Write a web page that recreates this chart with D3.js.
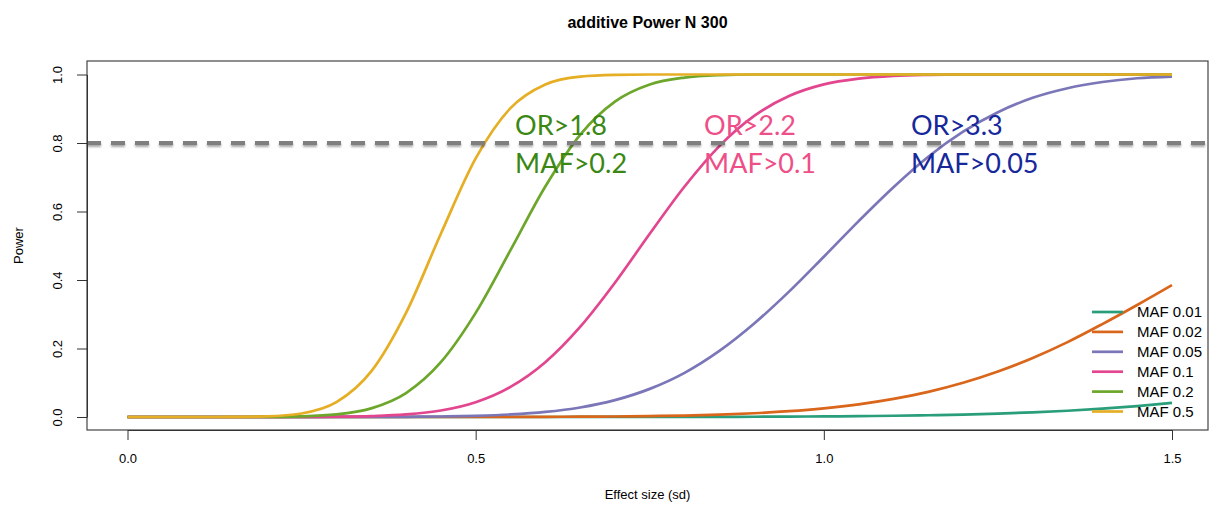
<!DOCTYPE html>
<html>
<head>
<meta charset="utf-8">
<script src="https://cdn.jsdelivr.net/npm/d3@7"></script>
<style>
  html, body { margin: 0; padding: 0; background: #ffffff; }
  svg { display: block; }
  .axis text { font-family: "Liberation Sans", Arial, sans-serif; font-size: 13px; fill: #000; }
  .axis path, .axis line { stroke: #333; stroke-width: 1; }
</style>
</head>
<body>
<svg id="chart" width="1214" height="513"></svg>
<script>
// Effect size grid (sd units)
const effectSize = [0, 0.05, 0.1, 0.15, 0.2, 0.25, 0.3, 0.35, 0.4, 0.45, 0.5, 0.55, 0.6, 0.65, 0.7,
  0.75, 0.8, 0.85, 0.9, 0.95, 1.0, 1.05, 1.1, 1.15, 1.2, 1.25, 1.3, 1.35, 1.4, 1.45, 1.5];

// Power for each minor allele frequency, additive model, N = 300
const powerMaf001 = [0, 0, 0, 0, 0, 0, 0, 0, 0, 0, 0, 0, 0, 0.0001, 0.0001,
  0.0002, 0.0003, 0.0005, 0.0008, 0.0012, 0.0017, 0.0025, 0.0036, 0.0051, 0.0071, 0.0099, 0.0135, 0.0182, 0.0243, 0.032, 0.041];
const powerMaf002 = [0, 0, 0, 0, 0, 0, 0, 0, 0, 0, 0.0001, 0.0003, 0.0005, 0.0009, 0.0015,
  0.0026, 0.0043, 0.0069, 0.011, 0.0169, 0.0253, 0.037, 0.0528, 0.0735, 0.0999, 0.1328, 0.1723, 0.2186, 0.2713, 0.327, 0.385];
const powerMaf005 = [0, 0, 0, 0, 0, 0, 0.0001, 0.0002, 0.0006, 0.0015, 0.0035, 0.0074, 0.0147, 0.0277, 0.0492,
  0.0821, 0.129, 0.193, 0.273, 0.366, 0.468, 0.572, 0.671, 0.760, 0.833, 0.890, 0.932, 0.960, 0.978, 0.989, 0.994];
const powerMaf01 = [0, 0, 0, 0, 0.0001, 0.0002, 0.0008, 0.0026, 0.0074, 0.0189, 0.0432, 0.0879, 0.160, 0.263, 0.392,
  0.535, 0.673, 0.791, 0.879, 0.937, 0.971, 0.988, 0.996, 0.999, 1, 1, 1, 1, 1, 1, 1];
const powerMaf02 = [0, 0, 0, 0, 0.0003, 0.0018, 0.0074, 0.0253, 0.070, 0.160, 0.304, 0.487, 0.673, 0.824, 0.921,
  0.971, 0.991, 0.998, 1, 1, 1, 1, 1, 1, 1, 1, 1, 1, 1, 1, 1];
const powerMaf05 = [0, 0, 0, 0.0002, 0.0018, 0.0103, 0.0432, 0.133, 0.304, 0.535, 0.755, 0.902, 0.971, 0.994, 0.999,
  1, 1, 1, 1, 1, 1, 1, 1, 1, 1, 1, 1, 1, 1, 1, 1];

const seriesLabels = ["MAF 0.01", "MAF 0.02", "MAF 0.05", "MAF 0.1", "MAF 0.2", "MAF 0.5"];
const seriesColors = ["#2A9E7A", "#D9661A", "#7A76B8", "#E2468F", "#6CA62A", "#E6AE24"];

// Axis ticks
const xTicks = [0, 0.5, 1.0, 1.5];
const yTicks = [0, 0.2, 0.4, 0.6, 0.8, 1.0];

// Target power threshold
const powerThreshold = 0.8;

// Annotated detection limits
const noteLines = [["OR>1.8", "MAF>0.2"], ["OR>2.2", "MAF>0.1"], ["OR>3.3", "MAF>0.05"]];
const noteColors = ["#3B8714", "#EE4F88", "#16289A"];

const series = [powerMaf001, powerMaf002, powerMaf005, powerMaf01, powerMaf02, powerMaf05]
  .map((vals, i) => ({
    label: seriesLabels[i],
    color: seriesColors[i],
    points: effectSize.map((e, j) => ({ x: e, y: vals[j] }))
  }));

// ---- layout ----
const box = { left: 87, right: 1208, top: 61, bottom: 430 };
const x = d3.scaleLinear().domain([0, 1.5]).range([127.5, 1172]);
const y = d3.scaleLinear().domain([0, 1]).range([417, 74.5]);

const svg = d3.select("#chart");

// Soft drop shadow for the threshold line (user-space region: the line has a zero-height bbox)
const defs = svg.append("defs");
const shadow = defs.append("filter").attr("id", "soft-shadow")
  .attr("filterUnits", "userSpaceOnUse")
  .attr("x", 0).attr("y", y(powerThreshold) - 15)
  .attr("width", 1214).attr("height", 30);
shadow.append("feDropShadow")
  .attr("dx", 0).attr("dy", 2).attr("stdDeviation", 1.3)
  .attr("flood-color", "#000").attr("flood-opacity", 0.35);

// Title
svg.append("text")
  .attr("x", (box.left + box.right) / 2).attr("y", 28)
  .attr("text-anchor", "middle")
  .style("font-family", "'Liberation Sans', Arial, sans-serif")
  .style("font-weight", "bold").style("font-size", "16px")
  .text("additive Power N 300");

// Power curves
const line = d3.line()
  .x(d => x(d.x)).y(d => y(d.y))
  .curve(d3.curveMonotoneX);

svg.append("g").selectAll("path")
  .data(series).join("path")
  .attr("d", d => line(d.points))
  .attr("fill", "none")
  .attr("stroke", d => d.color)
  .attr("stroke-width", 2.7)
  .attr("stroke-linecap", "butt");

// 80% power reference line
svg.append("line")
  .attr("x1", box.left).attr("x2", box.right)
  .attr("y1", y(powerThreshold)).attr("y2", y(powerThreshold))
  .attr("stroke", "#7f7f7f").attr("stroke-width", 4)
  .attr("stroke-dasharray", "14 10")
  .attr("filter", "url(#soft-shadow)");

// Plot frame
svg.append("rect")
  .attr("x", box.left).attr("y", box.top)
  .attr("width", box.right - box.left).attr("height", box.bottom - box.top)
  .attr("fill", "none").attr("stroke", "#444").attr("stroke-width", 1.2);

// Axes
const fmt = d3.format(".1f");
svg.append("g").attr("class", "axis")
  .attr("transform", `translate(0,${box.bottom})`)
  .call(d3.axisBottom(x).tickValues(xTicks).tickFormat(fmt).tickSize(10).tickSizeOuter(0).tickPadding(14));

const yAxis = svg.append("g").attr("class", "axis")
  .attr("transform", `translate(${box.left},0)`)
  .call(d3.axisLeft(y).tickValues(yTicks).tickFormat(fmt).tickSize(10).tickSizeOuter(0));
yAxis.selectAll("text")
  .attr("x", null).attr("dy", null)
  .attr("text-anchor", "middle")
  .attr("transform", "translate(-25,0) rotate(-90)");

// Axis titles
svg.append("text")
  .attr("x", (box.left + box.right) / 2).attr("y", 499)
  .attr("text-anchor", "middle")
  .style("font-family", "'Liberation Sans', Arial, sans-serif").style("font-size", "13px")
  .text("Effect size (sd)");

svg.append("text")
  .attr("transform", `translate(23,${(box.top + box.bottom) / 2}) rotate(-90)`)
  .attr("text-anchor", "middle")
  .style("font-family", "'Liberation Sans', Arial, sans-serif").style("font-size", "13px")
  .text("Power");

// Legend
const legend = svg.append("g").attr("transform", "translate(1092,312)");
const rows = legend.selectAll("g").data(series).join("g")
  .attr("transform", (d, i) => `translate(0,${i * 19.9})`);
rows.append("line")
  .attr("x1", 0).attr("x2", 31).attr("y1", 0).attr("y2", 0)
  .attr("stroke", d => d.color).attr("stroke-width", 2.7);
rows.append("text")
  .attr("x", 45).attr("y", 0).attr("dy", "0.36em")
  .style("font-family", "'Liberation Sans', Arial, sans-serif").style("font-size", "15px")
  .text(d => d.label);

// Detection-limit notes
const noteAnchors = [0.5566, 0.828, 1.125];
noteLines.forEach((pair, i) => {
  pair.forEach((t, k) => {
    svg.append("text")
      .attr("x", x(noteAnchors[i]))
      .attr("y", k === 0 ? 135 : 173)
      .attr("fill", noteColors[i])
      .style("font-family", "Lato, 'Open Sans', sans-serif")
      .style("font-size", "27px")
      .text(t);
  });
});
</script>
</body>
</html>
